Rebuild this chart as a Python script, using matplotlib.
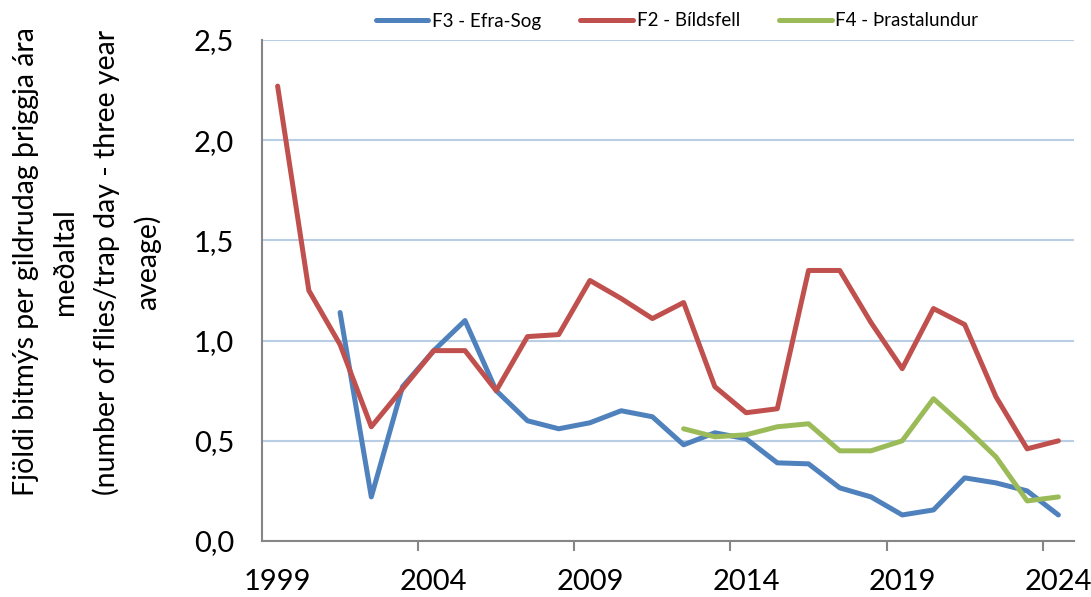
import matplotlib.pyplot as plt
from matplotlib.ticker import FixedLocator

# categories (one per year)
years = list(range(1999, 2025))

# F2 - Bíldsfell, 1999-2024
bildsfell = [2.27, 1.25, 0.98, 0.57, 0.76, 0.95, 0.95, 0.75, 1.02, 1.03,
             1.30, 1.21, 1.11, 1.19, 0.77, 0.64, 0.66, 1.35, 1.35, 1.09,
             0.86, 1.16, 1.08, 0.72, 0.46, 0.50]
# F3 - Efra-Sog, 2001-2024
efra_sog = [1.14, 0.22, 0.77, 0.95, 1.10, 0.75, 0.60, 0.56, 0.59, 0.65,
            0.62, 0.48, 0.54, 0.51, 0.39, 0.385, 0.265, 0.22, 0.13, 0.155,
            0.315, 0.29, 0.25, 0.13]
# F4 - Þrastalundur, 2012-2024
thrastalundur = [0.56, 0.52, 0.53, 0.57, 0.585, 0.45, 0.45, 0.50, 0.71,
                 0.57, 0.42, 0.20, 0.22]

plt.rcParams['font.family'] = ['Lato', 'DejaVu Sans']

fig = plt.figure(figsize=(10.91, 5.97), dpi=100)
ax = fig.add_axes([262/1091, 1 - 541/597, (1074 - 262)/1091, (541 - 40)/597])

idx = {y: i for i, y in enumerate(years)}
x_red = [idx[y] for y in years]
x_blue = [idx[y] for y in years[2:]]
x_green = [idx[y] for y in years[13:]]

lw = 3.6
ax.plot(x_blue, efra_sog, color='#4F81BD', lw=lw, label='F3 - Efra-Sog',
        solid_joinstyle='round', solid_capstyle='round', zorder=3)
ax.plot(x_red, bildsfell, color='#C0504D', lw=lw, label='F2 - Bíldsfell',
        solid_joinstyle='round', solid_capstyle='round', zorder=3)
ax.plot(x_green, thrastalundur, color='#9BBB59', lw=lw, label='F4 - Þrastalundur',
        solid_joinstyle='round', solid_capstyle='round', zorder=3)

ax.set_xlim(-0.5, len(years) - 0.5)
ax.set_ylim(0, 2.5)

# tick marks at category boundaries, labels at category centres
ax.xaxis.set_major_locator(FixedLocator([i - 0.5 for i in range(5, len(years), 5)]))
ax.xaxis.set_minor_locator(FixedLocator(list(range(0, len(years), 5))))
ax.set_xticklabels([])
ax.set_xticklabels([str(years[i]) for i in range(0, len(years), 5)], minor=True)
ax.tick_params(axis='x', which='major', length=7, width=1.5, color='#868686')
ax.tick_params(axis='x', which='minor', length=0, pad=20, labelsize=21)

ax.set_yticks([0, 0.5, 1.0, 1.5, 2.0, 2.5])
ax.set_yticklabels(['0,0', '0,5', '1,0', '1,5', '2,0', '2,5'])
ax.tick_params(axis='y', length=0, pad=20, labelsize=21)

ax.grid(axis='y', color='#B9CDE5', lw=1.5, zorder=0)
ax.set_axisbelow(True)
for s in ['top', 'right']:
    ax.spines[s].set_visible(False)
for s in ['left', 'bottom']:
    ax.spines[s].set_color('#868686')
    ax.spines[s].set_linewidth(1.5)

fig.text(87/1091, 1 - 262/597,
         'Fjöldi bitmýs per gildrudag þriggja ára\nmeðaltal\n'
         '(number of flies/trap day - three year\naveage)',
         rotation=90, ha='center', va='center', multialignment='center',
         fontsize=20.5, linespacing=1.62)

fig.legend(loc='center', bbox_to_anchor=(677/1091, 1 - 21/597), ncol=3,
           frameon=False, fontsize=13.5, handlelength=2.8, columnspacing=2.1,
           handletextpad=0.2)

fig.savefig('out.png', dpi=100)
